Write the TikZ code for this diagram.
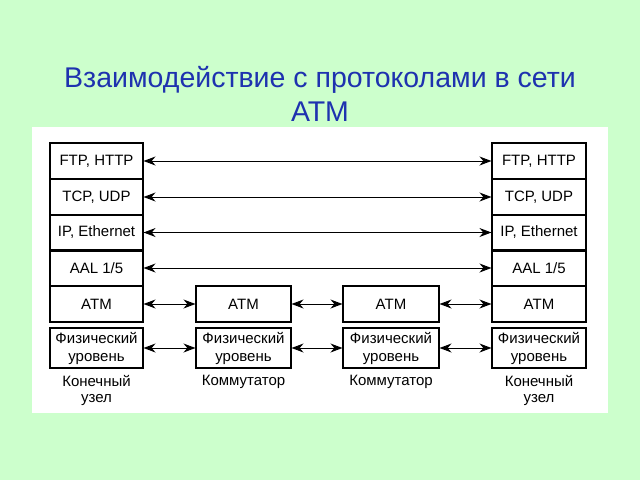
\documentclass[tikz,border=0pt]{standalone}
\usepackage{fontspec}
\setmainfont{Liberation Sans}
\usetikzlibrary{arrows.meta}
\definecolor{bggreen}{RGB}{204,255,204}
\definecolor{titleblue}{RGB}{30,50,175}
\begin{document}
\begin{tikzpicture}[x=1pt,y=-1pt,
  layer/.style={draw=black,line width=1.1pt,fill=white,inner sep=0pt,font=\fontsize{15}{18}\selectfont,align=center},
  lbl/.style={inner sep=0pt,font=\fontsize{15}{16.5}\selectfont,align=center},
  link/.style={line width=1pt,{Stealth[length=12pt,width=9pt]}-{Stealth[length=12pt,width=9pt]}}
]
\fill[bggreen] (0,0) rectangle (640,480);
\useasboundingbox (0,0) rectangle (640,480);
\fill[white] (32,127) rectangle (608,413);
\node[text=titleblue,font=\fontsize{28.5}{34}\selectfont,align=center] (title) at (320,94) {Взаимодействие с протоколами в сети\\АТМ};
% left stack
\foreach \n/\t/\y/\h in {lftp/{FTP, HTTP}/161/36, ltcp/{TCP, UDP}/197/36, lip/{IP, Ethernet}/232.5/35, laal/{AAL 1/5}/268/36, latm/ATM/304/36}{
  \node[layer,minimum width=93pt,minimum height=\h pt] (\n) at (96.5,\y) {\t};
}
\foreach \n/\t/\y/\h in {rftp/{FTP, HTTP}/161/36, rtcp/{TCP, UDP}/197/36, rip/{IP, Ethernet}/232.5/35, raal/{AAL 1/5}/268/36, ratm/ATM/304/36}{
  \node[layer,minimum width=94pt,minimum height=\h pt] (\n) at (539,\y) {\t};
}
\node[layer,minimum width=93pt,minimum height=40pt] (lphy) at (96.5,348) {Физический\\уровень};
\node[layer,minimum width=94pt,minimum height=40pt] (rphy) at (539,348) {Физический\\уровень};
\node[layer,minimum width=95pt,minimum height=36pt] (s1atm) at (243.5,304) {ATM};
\node[layer,minimum width=95pt,minimum height=40pt] (s1phy) at (243.5,348) {Физический\\уровень};
\node[layer,minimum width=96pt,minimum height=36pt] (s2atm) at (391,304) {ATM};
\node[layer,minimum width=96pt,minimum height=40pt] (s2phy) at (391,348) {Физический\\уровень};
% thick separators
\draw[line width=2.8pt] (lip.south west) -- (lip.south east);
\draw[line width=2.8pt] (rip.south west) -- (rip.south east);
% labels
\node[lbl,anchor=north] (lend) at (96.5,375) {Конечный\\узел};
\node[lbl,anchor=north] (rend) at (539,375) {Конечный\\узел};
\node[lbl,anchor=north] (sw1) at (243.5,375) {Коммутатор};
\node[lbl,anchor=north] (sw2) at (391,375) {Коммутатор};
% arrows
\draw[link] (lftp) -- (rftp);
\draw[link] (ltcp) -- (rtcp);
\draw[link] (lip) -- (rip);
\draw[link] (laal) -- (raal);
\draw[link] (latm) -- (s1atm);
\draw[link] (s1atm) -- (s2atm);
\draw[link] (s2atm) -- (ratm);
\draw[link] (lphy) -- (s1phy);
\draw[link] (s1phy) -- (s2phy);
\draw[link] (s2phy) -- (rphy);
\end{tikzpicture}
\end{document}
